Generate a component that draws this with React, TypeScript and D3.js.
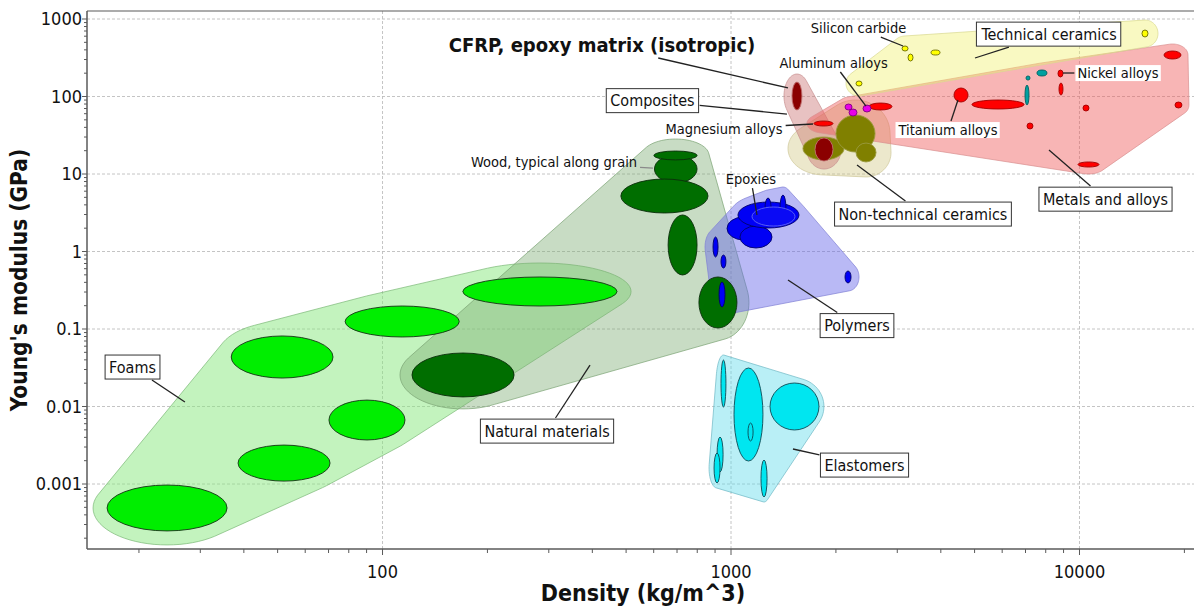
import React, { useEffect, useRef } from "react";
import * as d3 from "d3";

// Material property chart: Young's modulus vs density (log-log), Ashby style.

const W = 1194;
const H = 606;
const FRAME = { left: 87, right: 1194, top: 11, bottom: 549 };

const X_DOMAIN: [number, number] = [14.19, 21310];
const Y_DOMAIN: [number, number] = [0.000145, 1268.6];
const X_TICKS = [100, 1000, 10000];
const Y_TICKS = [0.001, 0.01, 0.1, 1, 10, 100, 1000];
const X_TITLE = "Density (kg/m^3)";
const Y_TITLE = "Young's modulus (GPa)";

// Each material bubble: [density min, density max, modulus min, modulus max]
type Range = [number, number, number, number];

const foams: Range[] = [
  [16.2, 35.8, 0.000248, 0.00097],
  [38.5, 70.7, 0.00109, 0.00318],
  [70.2, 116, 0.0037, 0.0121],
  [36.8, 72.1, 0.0233, 0.0813],
  [78.1, 166, 0.0789, 0.198],
  [170, 471, 0.198, 0.469],
];

const naturalMaterials: Range[] = [
  [121.5, 238.5, 0.0133, 0.049],
  [603, 799, 7.66, 17.6],
  [601, 799, 15.2, 19.8],
  [483, 859, 3.14, 8.61],
  [660, 799, 0.498, 2.96],
  [809, 1040, 0.103, 0.469],
];

const polymers: Range[] = [
  [974, 1211, 1.41, 2.79],
  [1061, 1311, 1.11, 2.13],
  [1047, 1567, 2.01, 4.35],
  [1252, 1303, 2.7, 4.9],
  [1382, 1438, 2.33, 5.36],
  [888, 918, 0.849, 1.54],
  [936, 967, 0.612, 0.901],
  [924, 961, 0.192, 0.404],
  [2124, 2210, 0.393, 0.56],
];

const epoxies: Range[] = [[1149, 1526, 2.13, 3.75]];

const elastomers: Range[] = [
  [936, 967, 0.00986, 0.0398],
  [1020, 1235, 0.00198, 0.0314],
  [1294, 1788, 0.00498, 0.0201],
  [1119, 1157, 0.00359, 0.00612],
  [912, 949, 0.00143, 0.00404],
  [894, 930, 0.00103, 0.00251],
  [1219, 1269, 0.00068, 0.00204],
];

const nonTechnicalCeramics: Range[] = [
  [1609, 2110, 15.2, 30.0],
  [2001, 2590, 19.2, 57.7],
  [2284, 2607, 14.3, 25.1],
];

const composites: Range[] = [
  [1496, 1598, 67.0, 153.8],
  [1742, 1962, 14.7, 29.2],
];

const metals: Range[] = [
  [1730, 1962, 41.6, 48.3],
  [2489, 2897, 67.0, 82.4],
  [4364, 4788, 84.9, 128.8],
  [4915, 6931, 69.0, 90.1],
  [8675, 8966, 178.5, 219.6],
  [8734, 8966, 104.4, 149.2],
  [10233, 10649, 65.0, 77.6],
  [7069, 7355, 38.1, 45.5],
  [9902, 11376, 12.3, 14.3],
  [17478, 19554, 304.6, 386.5],
  [18793, 19680, 71.1, 84.9],
];

const cobaltAlloys: Range[] = [
  [6977, 7163, 77.6, 140.6],
  [7022, 7211, 163, 184],
  [7551, 8066, 184, 219.6],
];

const lightAlloys: Range[] = [
  [2124, 2225, 67.0, 80.0],
  [2181, 2299, 56.0, 69.0],
  [2392, 2521, 63.1, 77.6],
];

const technicalCeramics: Range[] = [
  [2284, 2376, 136.6, 158.5],
  [3096, 3221, 386.5, 448.6],
  [3221, 3329, 287, 353],
  [3749, 3979, 343, 398],
  [15111, 15724, 586, 721],
];

type Group = { data: Range[]; fill: string; stroke: string };
type Family = {
  key: string;
  pad: number;
  env: string;
  envOpacity: number;
  envStroke: string;
  groups: Group[];
};

const families: Family[] = [
  {
    key: "foams", pad: 14, env: "rgb(135,232,125)", envOpacity: 0.5, envStroke: "#7ab876",
    groups: [{ data: foams, fill: "#00ee00", stroke: "#163216" }],
  },
  {
    key: "natural", pad: 12, env: "rgb(125,172,115)", envOpacity: 0.42, envStroke: "#7aa374",
    groups: [{ data: naturalMaterials, fill: "#006e00", stroke: "#0b2e0b" }],
  },
  {
    key: "polymers", pad: 8, env: "rgb(100,100,232)", envOpacity: 0.45, envStroke: "#8080d4",
    groups: [{ data: polymers, fill: "#0000f5", stroke: "#00006a" }],
  },
  {
    key: "elastomers", pad: 5, env: "rgb(100,220,235)", envOpacity: 0.45, envStroke: "#6fb8c4",
    groups: [{ data: elastomers, fill: "#00e6f0", stroke: "#0c4a55" }],
  },
  {
    key: "nontech", pad: 15, env: "rgb(205,195,120)", envOpacity: 0.38, envStroke: "#cfc89a",
    groups: [{ data: nonTechnicalCeramics, fill: "#808000", stroke: "#9a9a40" }],
  },
  {
    key: "composites", pad: 8, env: "rgb(200,110,110)", envOpacity: 0.42, envStroke: "#c89090",
    groups: [{ data: composites, fill: "#8b0000", stroke: "#c07070" }],
  },
  {
    key: "metals", pad: 7, env: "rgb(240,92,92)", envOpacity: 0.45, envStroke: "#d89090",
    groups: [
      { data: metals, fill: "#ff0000", stroke: "#a00000" },
      { data: cobaltAlloys, fill: "#00a0a0", stroke: "#006060" },
      { data: lightAlloys, fill: "#e800e8", stroke: "#800080" },
    ],
  },
  {
    key: "techceramics", pad: 10, env: "rgb(240,240,110)", envOpacity: 0.42, envStroke: "#d8d890",
    groups: [{ data: technicalCeramics, fill: "#ffff00", stroke: "#6a6a00" }],
  },
];

type Note = {
  text: string;
  at: [number, number];
  tip: [number, number];
  style: "box" | "plain" | "backed" | "bold";
  leader?: string;
};

const notes: Note[] = [
  { text: "Foams", at: [19.17, 0.0324], tip: [27.1, 0.01143], style: "box" },
  { text: "Natural materials", at: [296.5, 0.00483], tip: [393.9, 0.0343], style: "box" },
  { text: "Polymers", at: [2299, 0.111], tip: [1457, 0.4285], style: "box" },
  { text: "Elastomers", at: [2416, 0.00176], tip: [1506, 0.00283], style: "box" },
  { text: "Metals and alloys", at: [11875, 4.75], tip: [8175, 20.4], style: "box" },
  { text: "Non-technical ceramics", at: [3555, 3.05], tip: [2299, 13.06], style: "box" },
  { text: "Technical ceramics", at: [8180, 640], tip: [5013, 314], style: "box" },
  { text: "Composites", at: [595, 88.7], tip: [1447, 59.4], style: "box" },
  { text: "CFRP, epoxy matrix (isotropic)", at: [426.4, 462], tip: [1457, 128.8], style: "bold" },
  { text: "Aluminum alloys", at: [1969, 270.6], tip: [2440, 75.3], style: "plain" },
  { text: "Silicon carbide", at: [2322, 765], tip: [3116, 448.6], style: "plain" },
  { text: "Magnesium alloys", at: [954.8, 38.1], tip: [1719, 44.2], style: "plain" },
  { text: "Titanium alloys", at: [4195, 37.0], tip: [4480, 90.1], style: "backed" },
  { text: "Nickel alloys", at: [12898, 201], tip: [8966, 201], style: "backed" },
  { text: "Epoxies", at: [1141, 8.61], tip: [1187, 2.96], style: "plain" },
  { text: "Wood, typical along grain", at: [310.5, 14.3], tip: [597, 11.9], style: "plain", leader: "#8a8a8a" },
];

const FONT = "'DejaVu Sans Condensed', 'DejaVu Sans', sans-serif";

export default function App() {
  const ref = useRef<SVGSVGElement>(null);

  useEffect(() => {
    const svg = d3.select(ref.current!);
    svg.selectAll("*").remove();

    const x = d3.scaleLog().domain(X_DOMAIN).range([FRAME.left, FRAME.right]);
    const y = d3.scaleLog().domain(Y_DOMAIN).range([FRAME.bottom, FRAME.top]);

    svg.append("rect").attr("width", W).attr("height", H).attr("fill", "#fff");

    const defs = svg.append("defs");
    defs.append("clipPath").attr("id", "plot-clip")
      .append("rect")
      .attr("x", FRAME.left).attr("y", FRAME.top)
      .attr("width", FRAME.right - FRAME.left).attr("height", FRAME.bottom - FRAME.top);

    // grid
    const grid = svg.append("g").attr("stroke", "#bdbdbd").attr("stroke-width", 0.9)
      .attr("stroke-dasharray", "3,2");
    grid.selectAll("line.gx").data(X_TICKS).join("line")
      .attr("x1", (d) => x(d)).attr("x2", (d) => x(d))
      .attr("y1", FRAME.top).attr("y2", FRAME.bottom);
    grid.selectAll("line.gy").data(Y_TICKS).join("line")
      .attr("y1", (d) => y(d)).attr("y2", (d) => y(d))
      .attr("x1", FRAME.left).attr("x2", FRAME.right);

    const geom = (r: Range) => {
      const x0 = x(r[0]), x1 = x(r[1]), y0 = y(r[2]), y1 = y(r[3]);
      return { cx: (x0 + x1) / 2, cy: (y0 + y1) / 2, rx: Math.abs(x1 - x0) / 2, ry: Math.abs(y0 - y1) / 2 };
    };

    const hullPath = (ranges: Range[], pad: number) => {
      const pts: [number, number][] = [];
      ranges.forEach((r) => {
        const g = geom(r);
        for (let i = 0; i < 72; i++) {
          const t = (i / 72) * 2 * Math.PI;
          pts.push([g.cx + (g.rx + pad) * Math.cos(t), g.cy + (g.ry + pad) * Math.sin(t)]);
        }
      });
      const hull = d3.polygonHull(pts) || pts;
      return d3.line().curve(d3.curveLinearClosed)(hull) || "";
    };

    const plot = svg.append("g").attr("clip-path", "url(#plot-clip)");

    // envelopes
    const envLayer = plot.append("g");
    families.forEach((f) => {
      const all = f.groups.flatMap((g) => g.data);
      envLayer.append("path")
        .attr("d", hullPath(all, f.pad))
        .attr("fill", f.env)
        .attr("fill-opacity", f.envOpacity)
        .attr("stroke", f.envStroke)
        .attr("stroke-opacity", 0.7)
        .attr("stroke-width", 1);
    });

    // bubbles
    const bubbleLayer = plot.append("g");
    families.forEach((f) => {
      f.groups.forEach((g) => {
        bubbleLayer.append("g").selectAll("ellipse").data(g.data).join("ellipse")
          .attr("cx", (d) => geom(d).cx)
          .attr("cy", (d) => geom(d).cy)
          .attr("rx", (d) => geom(d).rx)
          .attr("ry", (d) => geom(d).ry)
          .attr("fill", g.fill)
          .attr("stroke", g.stroke)
          .attr("stroke-width", 0.9);
      });
      if (f.key === "polymers") {
        bubbleLayer.append("g").selectAll("ellipse").data(epoxies).join("ellipse")
          .attr("cx", (d) => geom(d).cx)
          .attr("cy", (d) => geom(d).cy)
          .attr("rx", (d) => geom(d).rx)
          .attr("ry", (d) => geom(d).ry)
          .attr("fill", "#0a0af5")
          .attr("stroke", "#6f74f0")
          .attr("stroke-width", 0.8);
      }
    });

    // axes frame
    const axisColor = "#5a5a5a";
    svg.append("line").attr("x1", FRAME.left).attr("x2", FRAME.right)
      .attr("y1", FRAME.top).attr("y2", FRAME.top).attr("stroke", axisColor).attr("stroke-width", 1.2);
    svg.append("line").attr("x1", FRAME.left).attr("x2", FRAME.right)
      .attr("y1", FRAME.bottom).attr("y2", FRAME.bottom).attr("stroke", axisColor).attr("stroke-width", 1.5);
    svg.append("line").attr("x1", FRAME.left).attr("x2", FRAME.left)
      .attr("y1", FRAME.top).attr("y2", FRAME.bottom).attr("stroke", axisColor).attr("stroke-width", 1.5);

    const xMinor = x.ticks().filter((v) => v >= X_DOMAIN[0] && v <= X_DOMAIN[1]);
    const yMinor = y.ticks().filter((v) => v >= Y_DOMAIN[0] && v <= Y_DOMAIN[1]);
    const isMajor = (v: number) => Math.abs(Math.log10(v) - Math.round(Math.log10(v))) < 1e-6;

    svg.append("g").selectAll("line").data(xMinor).join("line")
      .attr("x1", (d) => x(d)).attr("x2", (d) => x(d))
      .attr("y1", FRAME.bottom).attr("y2", (d) => FRAME.bottom + (isMajor(d) ? 6 : 4))
      .attr("stroke", axisColor).attr("stroke-width", 1);
    svg.append("g").selectAll("line").data(yMinor).join("line")
      .attr("y1", (d) => y(d)).attr("y2", (d) => y(d))
      .attr("x1", FRAME.left).attr("x2", (d) => FRAME.left - (isMajor(d) ? 5 : 3))
      .attr("stroke", axisColor).attr("stroke-width", 1);

    const fmt = (v: number) => (v >= 1 ? d3.format("d")(v) : String(+v.toPrecision(1)));

    svg.append("g").selectAll("text").data(X_TICKS).join("text")
      .attr("x", (d) => x(d)).attr("y", 578)
      .attr("text-anchor", "middle")
      .attr("font-family", FONT).attr("font-stretch", "condensed")
      .attr("font-size", 18).attr("fill", "#111")
      .text((d) => fmt(d));
    svg.append("g").selectAll("text").data(Y_TICKS).join("text")
      .attr("x", 82).attr("y", (d) => y(d))
      .attr("dy", "0.36em")
      .attr("text-anchor", "end")
      .attr("font-family", FONT).attr("font-stretch", "condensed")
      .attr("font-size", 18).attr("fill", "#111")
      .text((d) => fmt(d));

    svg.append("text")
      .attr("x", 643).attr("y", 601)
      .attr("text-anchor", "middle")
      .attr("font-family", FONT).attr("font-stretch", "condensed")
      .attr("font-weight", "bold").attr("font-size", 23).attr("fill", "#111")
      .text(X_TITLE);
    svg.append("text")
      .attr("transform", `translate(27,${(FRAME.top + FRAME.bottom) / 2}) rotate(-90)`)
      .attr("text-anchor", "middle")
      .attr("font-family", FONT).attr("font-stretch", "condensed")
      .attr("font-weight", "bold").attr("font-size", 22.5).attr("fill", "#111")
      .text(Y_TITLE);

    // annotations
    const noteLayer = svg.append("g");
    notes.forEach((n) => {
      const cx = x(n.at[0]);
      const cy = y(n.at[1]);
      const tx = x(n.tip[0]);
      const ty = y(n.tip[1]);
      const g = noteLayer.append("g");
      const line = g.append("line");
      const rect = g.append("rect");
      const label = g.append("text")
        .attr("x", cx).attr("y", cy)
        .attr("dy", "0.35em")
        .attr("text-anchor", "middle")
        .attr("font-family", FONT).attr("font-stretch", "condensed")
        .attr("font-size", n.style === "bold" ? 20 : n.style === "box" ? 16 : 14.5)
        .attr("font-weight", n.style === "bold" ? "bold" : "normal")
        .attr("fill", "#111")
        .text(n.text);
      const bb = (label.node() as SVGTextElement).getBBox();
      const padX = n.style === "box" ? 4 : 2;
      const padY = n.style === "box" ? 2.5 : 0;
      const bx = bb.x - padX, by = bb.y - padY, bw = bb.width + 2 * padX, bh = bb.height + 2 * padY;
      if (n.style === "box" || n.style === "backed") {
        rect.attr("x", bx).attr("y", by).attr("width", bw).attr("height", bh)
          .attr("fill", "#fff")
          .attr("stroke", n.style === "box" ? "#333" : "none")
          .attr("stroke-width", 1);
      } else {
        rect.remove();
      }
      // leader starts where the segment leaves the label box
      const dx = tx - cx, dy = ty - cy;
      const hw = bw / 2 + 1, hh = bh / 2 + 1;
      const s = Math.min(dx !== 0 ? hw / Math.abs(dx) : Infinity, dy !== 0 ? hh / Math.abs(dy) : Infinity, 1);
      line.attr("x1", cx + s * dx).attr("y1", cy + s * dy)
        .attr("x2", tx).attr("y2", ty)
        .attr("stroke", n.leader || "#222").attr("stroke-width", 1.3);
    });
  }, []);

  return (
    <svg
      ref={ref}
      width={W}
      height={H}
      style={{ position: "absolute", left: 0, top: 0, display: "block" }}
    />
  );
}
